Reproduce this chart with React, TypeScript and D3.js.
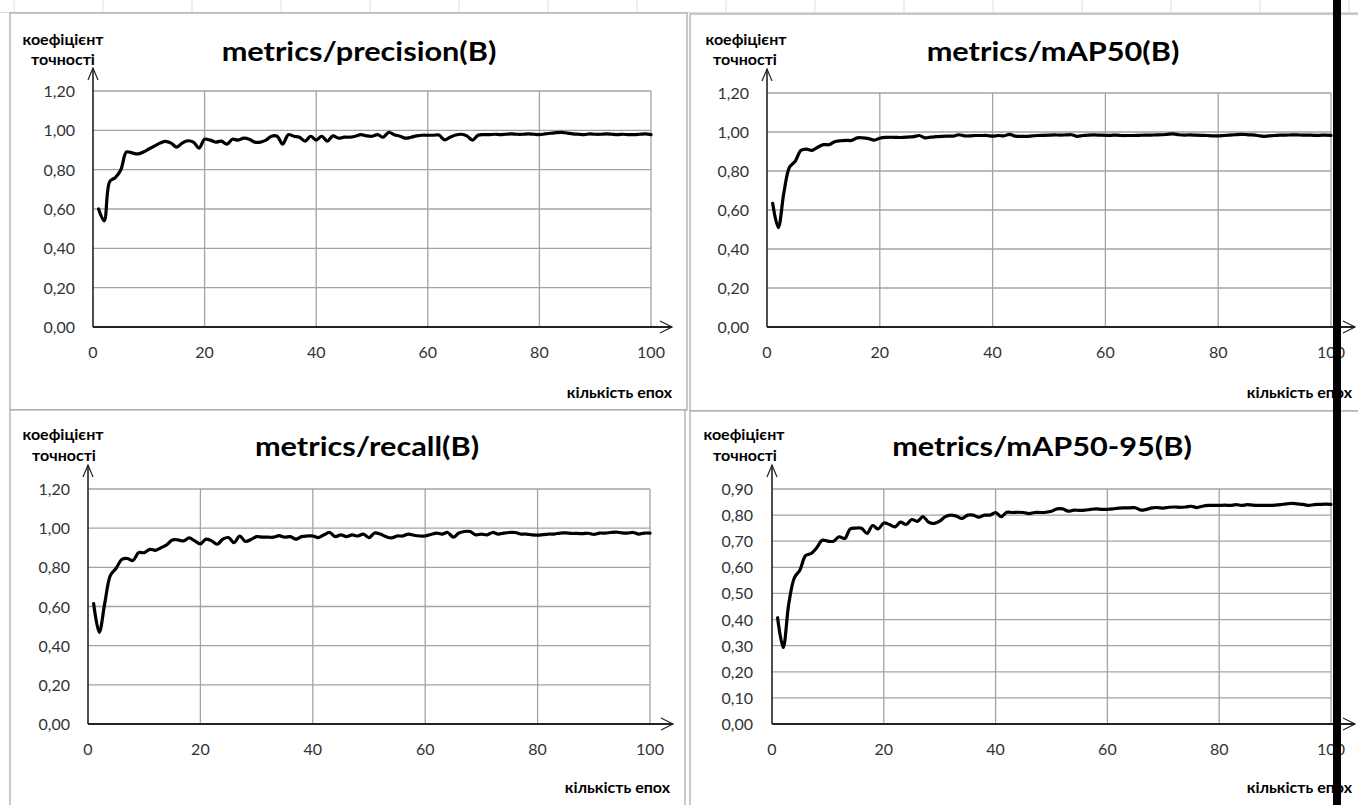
import React from 'react';
import * as d3 from 'd3';

// epochs 1..100, values
const epochs = d3.range(1, 101);

const precision = [
  0.60, 0.54, 0.74, 0.76, 0.80, 0.89, 0.885, 0.88, 0.89, 0.905,
  0.92, 0.935, 0.944, 0.935, 0.915, 0.935, 0.947, 0.94, 0.91, 0.955,
  0.95, 0.94, 0.945, 0.93, 0.955, 0.95, 0.96, 0.955, 0.94, 0.94,
  0.95, 0.97, 0.97, 0.93, 0.978, 0.97, 0.965, 0.945, 0.97, 0.95,
  0.97, 0.945, 0.972, 0.96, 0.965, 0.965, 0.97, 0.978, 0.972, 0.97,
  0.978, 0.965, 0.99, 0.978, 0.97, 0.96, 0.965, 0.972, 0.975, 0.975,
  0.975, 0.976, 0.952, 0.965, 0.976, 0.98, 0.972, 0.95, 0.975, 0.978,
  0.978, 0.98, 0.978, 0.98, 0.982, 0.98, 0.98, 0.982, 0.98, 0.978,
  0.982, 0.985, 0.988, 0.99, 0.986, 0.982, 0.98, 0.978, 0.982, 0.98,
  0.98, 0.982, 0.98, 0.978, 0.98, 0.978, 0.978, 0.98, 0.982, 0.978,
];

const mAP50 = [
  0.634, 0.51, 0.69, 0.82, 0.85, 0.905, 0.912, 0.906, 0.922, 0.935,
  0.935, 0.95, 0.955, 0.957, 0.957, 0.97, 0.97, 0.966, 0.958, 0.968,
  0.972, 0.973, 0.972, 0.972, 0.974, 0.976, 0.982, 0.97, 0.974, 0.976,
  0.978, 0.979, 0.979, 0.986, 0.98, 0.98, 0.982, 0.982, 0.982, 0.979,
  0.982, 0.98, 0.988, 0.979, 0.978, 0.978, 0.98, 0.982, 0.983, 0.984,
  0.985, 0.984, 0.985, 0.986, 0.978, 0.982, 0.984, 0.985, 0.984, 0.983,
  0.983, 0.984, 0.982, 0.982, 0.982, 0.983, 0.984, 0.984, 0.985, 0.986,
  0.988, 0.99, 0.986, 0.984, 0.985, 0.984, 0.983, 0.982, 0.98, 0.98,
  0.982, 0.984, 0.986, 0.988, 0.987, 0.985, 0.982, 0.978, 0.98, 0.982,
  0.984, 0.984, 0.985, 0.985, 0.984, 0.984, 0.983, 0.983, 0.984, 0.983,
];

const recall = [
  0.615, 0.468, 0.62, 0.76, 0.795, 0.84, 0.845, 0.835, 0.875, 0.875,
  0.892, 0.887, 0.90, 0.915, 0.94, 0.94, 0.935, 0.95, 0.935, 0.92,
  0.944, 0.935, 0.918, 0.944, 0.952, 0.926, 0.96, 0.932, 0.942, 0.957,
  0.954, 0.954, 0.954, 0.962, 0.954, 0.957, 0.944, 0.957, 0.96, 0.96,
  0.952, 0.966, 0.978, 0.957, 0.966, 0.957, 0.966, 0.96, 0.97, 0.952,
  0.975, 0.97, 0.957, 0.95, 0.96, 0.96, 0.97, 0.964, 0.96, 0.96,
  0.968, 0.975, 0.97, 0.978, 0.954, 0.975, 0.983, 0.983, 0.966, 0.97,
  0.966, 0.978, 0.97, 0.975, 0.978, 0.978, 0.97, 0.97, 0.966, 0.964,
  0.967, 0.97, 0.97, 0.975, 0.976, 0.973, 0.973, 0.972, 0.974, 0.968,
  0.975, 0.975, 0.978, 0.98, 0.976, 0.975, 0.978, 0.97, 0.975, 0.975,
];

const mAP50_95 = [
  0.407, 0.293, 0.46, 0.56, 0.59, 0.645, 0.653, 0.675, 0.704, 0.70,
  0.70, 0.717, 0.71, 0.747, 0.75, 0.75, 0.73, 0.76, 0.747, 0.77,
  0.764, 0.755, 0.773, 0.764, 0.783, 0.776, 0.794, 0.773, 0.768, 0.777,
  0.794, 0.80, 0.796, 0.787, 0.80, 0.80, 0.792, 0.80, 0.80, 0.81,
  0.794, 0.811, 0.81, 0.811, 0.81, 0.806, 0.81, 0.81, 0.811, 0.815,
  0.824, 0.824, 0.815, 0.819, 0.818, 0.819, 0.822, 0.824, 0.822, 0.822,
  0.824, 0.827, 0.828, 0.828, 0.828, 0.819, 0.822, 0.828, 0.829, 0.827,
  0.83, 0.831, 0.83, 0.831, 0.834, 0.829, 0.834, 0.837, 0.837, 0.837,
  0.838, 0.837, 0.84, 0.837, 0.84, 0.838, 0.837, 0.837, 0.837, 0.838,
  0.84, 0.843, 0.845, 0.843, 0.841, 0.837, 0.84, 0.841, 0.842, 0.841,
];

const xTicks = [0, 20, 40, 60, 80, 100];
const yTicks12 = [0, 0.2, 0.4, 0.6, 0.8, 1.0, 1.2];
const yTicks09 = [0, 0.1, 0.2, 0.3, 0.4, 0.5, 0.6, 0.7, 0.8, 0.9];

const yAxisLabel = ['коефіцієнт', 'точності'];
const xAxisLabel = 'кількість епох';

const FONT = 'Lato, "Open Sans", sans-serif';

const panels = [
  {
    title: 'metrics/precision(B)', values: precision, yTicks: yTicks12,
    box: [10, 13, 677, 397], x0: 93, x1: 651, yTop: 91, yBot: 327,
    titleX: 359, titleY: 61, labelX: [63, 63], labelY: [45, 65],
    tickRight: 75, xTickY: 358, arrowX: 672, arrowY: 68, xLabelX: 672, xLabelY: 398,
  },
  {
    title: 'metrics/mAP50(B)', values: mAP50, yTicks: yTicks12,
    box: [690, 14, 690, 397], x0: 767, x1: 1331, yTop: 93, yBot: 327,
    titleX: 1053, titleY: 61, labelX: [746, 745], labelY: [45, 65],
    tickRight: 749, xTickY: 358, arrowX: 1355, arrowY: 69, xLabelX: 1352, xLabelY: 398,
  },
  {
    title: 'metrics/recall(B)', values: recall, yTicks: yTicks12,
    box: [10, 410, 675, 400], x0: 88, x1: 650, yTop: 489, yBot: 724,
    titleX: 367, titleY: 456, labelX: [63, 64], labelY: [440, 461],
    tickRight: 70, xTickY: 755, arrowX: 673, arrowY: 465, xLabelX: 670, xLabelY: 793,
  },
  {
    title: 'metrics/mAP50-95(B)', values: mAP50_95, yTicks: yTicks09,
    box: [690, 411, 690, 400], x0: 772, x1: 1331, yTop: 489, yBot: 724,
    titleX: 1042, titleY: 456, labelX: [744, 745], labelY: [440, 461],
    tickRight: 753, xTickY: 755, arrowX: 1355, arrowY: 465, xLabelX: 1352, xLabelY: 793,
  },
];

const fmt = (v: number) => d3.format('.2f')(v).replace('.', ',');

function Panel({ p }: { p: any }) {
  const yMax = p.yTicks[p.yTicks.length - 1];
  const x = d3.scaleLinear().domain([0, 100]).range([p.x0, p.x1]);
  const y = d3.scaleLinear().domain([0, yMax]).range([p.yBot, p.yTop]);
  const line = d3.line<number>()
    .x((_, i) => x(epochs[i]))
    .y(d => y(d))
    .curve(d3.curveCatmullRom.alpha(0.5));
  const [bx, by, bw, bh] = p.box;

  return (
    <g>
      <rect x={bx} y={by} width={bw} height={bh} fill="#fff" stroke="#a6a6a6" strokeWidth={1.2} />
      {/* grid */}
      {p.yTicks.filter((t: number) => t > 0).map((t: number) => (
        <line key={'gy' + t} x1={p.x0} x2={p.x1} y1={y(t)} y2={y(t)} stroke="#a3a3a3" strokeWidth={1.3} />
      ))}
      {xTicks.filter(t => t > 0).map(t => (
        <line key={'gx' + t} x1={x(t)} x2={x(t)} y1={p.yTop} y2={p.yBot} stroke="#a3a3a3" strokeWidth={1.3} />
      ))}
      {/* axes with arrows */}
      <line x1={p.x0} x2={p.x0} y1={p.yBot} y2={p.arrowY} stroke="#222" strokeWidth={1.6} />
      <path d={`M${p.x0 - 5},${p.arrowY + 12}L${p.x0},${p.arrowY}L${p.x0 + 5},${p.arrowY + 12}`} fill="none" stroke="#222" strokeWidth={1.2} />
      <line x1={p.x0} x2={p.arrowX} y1={p.yBot} y2={p.yBot} stroke="#222" strokeWidth={1.8} />
      <path d={`M${p.arrowX - 12},${p.yBot - 6}L${p.arrowX},${p.yBot}L${p.arrowX - 12},${p.yBot + 6}`} fill="none" stroke="#222" strokeWidth={1.2} />
      {/* tick labels */}
      {p.yTicks.map((t: number) => (
        <text key={'ty' + t} x={p.tickRight} y={y(t) + 6} textAnchor="end" fontFamily={FONT} fontSize={16} fill="#333">{fmt(t)}</text>
      ))}
      {xTicks.map(t => (
        <text key={'tx' + t} x={x(t)} y={p.xTickY} textAnchor="middle" fontFamily={FONT} fontSize={16} fill="#333">{t}</text>
      ))}
      {/* series */}
      <path d={line(p.values) || ''} fill="none" stroke="#000" strokeWidth={3.2} strokeLinejoin="round" strokeLinecap="round" />
      {/* texts */}
      <text transform={`translate(${p.titleX},${p.titleY}) scale(1.18,1)`} textAnchor="middle" fontFamily={FONT} fontWeight={700} fontSize={26} fill="#000">{p.title}</text>
      {yAxisLabel.map((s, i) => (
        <text key={s} x={p.labelX[i]} y={p.labelY[i]} textAnchor="middle" fontFamily={FONT} fontWeight={700} fontSize={16} fill="#000">{s}</text>
      ))}
      <text x={p.xLabelX} y={p.xLabelY} textAnchor="end" fontFamily={FONT} fontWeight={700} fontSize={16} fill="#000">{xAxisLabel}</text>
    </g>
  );
}

export default function App() {
  const cols = d3.range(14, 1358, 89);
  return (
    <svg width={1358} height={805} style={{ position: 'absolute', left: 0, top: 0, background: '#fff' }}>
      <rect x={0} y={0} width={1358} height={805} fill="#fff" />
      {cols.map(c => (
        <line key={c} x1={c} x2={c} y1={0} y2={13} stroke="#e0e0e0" strokeWidth={1} />
      ))}
      <line x1={0} x2={1358} y1={12.5} y2={12.5} stroke="#d9d9d9" strokeWidth={1} />
      {panels.map(p => <Panel key={p.title} p={p} />)}
      <rect x={1333} y={0} width={8} height={805} fill="#000" />
    </svg>
  );
}
